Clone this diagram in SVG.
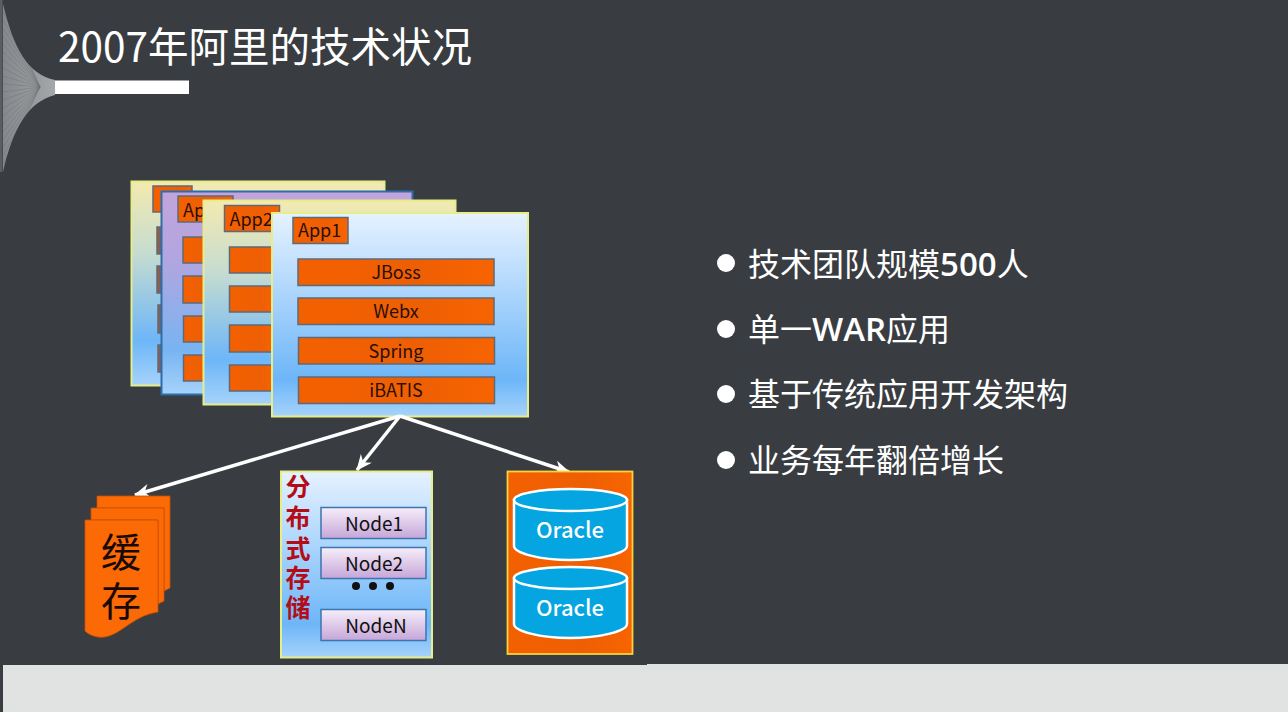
<svg xmlns="http://www.w3.org/2000/svg" width="1288" height="712" viewBox="0 0 1288 712">
<style>
text{font-family:"Noto Sans CJK SC","Liberation Sans",sans-serif}
.lat{font-family:"Open Sans","Noto Sans","Liberation Sans",sans-serif;font-weight:600;font-size:33px}
.card{stroke:#e6ee8a;stroke-width:2}
.row{fill:url(#orange);stroke:#5f6a78;stroke-width:1.5}
.dim{fill:#8a5f50;stroke:#5f6a78;stroke-width:1.5}
.lbl{font-size:18px;fill:#2a0f08;text-anchor:middle}
.app{font-size:18px;fill:#2a0f08}
.node{fill:url(#nodeg);stroke:#3d74b0;stroke-width:1.5}
.nt{font-size:19px;fill:#111;text-anchor:middle}
.bul{font-size:32px;fill:#fff}
.vt{font-size:25px;font-weight:700;fill:#b30d18;text-anchor:middle}
.cyl{fill:#05a5e2;stroke:#fff;stroke-width:2.5}
.ot{font-size:22px;font-weight:500;fill:#fff;text-anchor:middle}
.arr{stroke:#fff;stroke-width:3.500;fill:none}
.doc{fill:#fb6a05;stroke:#c84f05;stroke-width:.8}
</style>
<defs>
<linearGradient id="orange" x1="0" y1="0" x2="1" y2="0"><stop offset="0" stop-color="#f36000"/><stop offset=".6" stop-color="#ee5f04"/><stop offset="1" stop-color="#f76400"/></linearGradient>
<linearGradient id="blue" x1="0" y1="0" x2="0" y2="1"><stop offset="0" stop-color="#e6f2ff"/><stop offset=".82" stop-color="#6db6f8"/><stop offset="1" stop-color="#a6d3fb"/></linearGradient>
<linearGradient id="yel" x1="0" y1="0" x2="0" y2="1"><stop offset="0" stop-color="#f3eab0"/><stop offset=".35" stop-color="#c6dcd0"/><stop offset=".78" stop-color="#6db6f8"/><stop offset="1" stop-color="#a6d3fb"/></linearGradient>
<linearGradient id="pur" x1="0" y1="0" x2="0" y2="1"><stop offset="0" stop-color="#c3a4dc"/><stop offset=".35" stop-color="#b0a6e0"/><stop offset=".78" stop-color="#78b4f2"/><stop offset="1" stop-color="#a6d3fb"/></linearGradient>
<linearGradient id="nodeg" x1="0" y1="0" x2="0" y2="1"><stop offset="0" stop-color="#f6eefa"/><stop offset="1" stop-color="#c6a6d8"/></linearGradient>
<linearGradient id="fan" x1="0" y1="0" x2="1" y2="0"><stop offset="0" stop-color="#85898c"/><stop offset="1" stop-color="#a5a8aa"/></linearGradient>
<clipPath id="fanclip"><path d="M3 4C14 50 28 74 55 80V95C28 102 13 128 3 172Z"/></clipPath>
<marker id="head" viewBox="0 0 16 14" refX="15" refY="7" markerWidth="16" markerHeight="14" markerUnits="userSpaceOnUse" orient="auto"><path d="M0 0L16 7L0 14L5 7Z" fill="#fff"/></marker>
</defs>
<rect width="1288" height="712" fill="#393d41"/>
<g id="ornament">
<rect x="0" y="0" width="2.500" height="172" fill="#5a5e62"/>
<path d="M3 4C14 50 28 74 55 80V95C28 102 13 128 3 172Z" fill="url(#fan)"/>
<path clip-path="url(#fanclip)" stroke="#6a6e72" stroke-width=".4" fill="none" d="M3 4L40 87M3 12L40 87M3 20L40 87M3 28L40 87M3 36L40 87M3 44L40 87M3 52L40 87M3 60L40 87M3 68L40 87M3 76L40 87M3 84L40 87M3 92L40 87M3 100L40 87M3 108L40 87M3 116L40 87M3 124L40 87M3 132L40 87M3 140L40 87M3 148L40 87M3 156L40 87M3 164L40 87"/>
<rect x="55" y="80.500" width="134" height="13.500" fill="#fff"/>
</g>
<g id="footer"><path d="M3 665H647V664H1288V712H3Z" fill="#e1e3e3"/></g>
<text id="title" x="58" y="62" font-size="40.500" fill="#fff">2007年阿里的技术状况</text>
<g id="app4">
<rect class="card" x="131.500" y="181.500" width="253" height="204" fill="url(#yel)"/>
<rect class="row" x="153" y="186" width="39" height="26"/>
<rect class="dim" x="157" y="227" width="10" height="27"/><rect class="dim" x="157" y="266" width="10" height="27"/><rect class="dim" x="158" y="305" width="10" height="28"/><rect class="dim" x="158" y="345" width="10" height="27"/>
</g>
<g id="app3">
<rect x="161.500" y="191.500" width="251" height="203" fill="url(#pur)" stroke="#2f6ca8" stroke-width="2"/>
<rect class="row" x="178" y="196" width="55" height="26"/>
<text class="app" x="183" y="217">App3</text>
<rect class="row" x="183" y="237" width="30" height="26"/><rect class="row" x="183" y="276" width="30" height="27"/><rect class="row" x="183.500" y="316" width="30" height="26"/><rect class="row" x="183.500" y="355" width="30" height="26"/>
</g>
<g id="app2">
<rect class="card" x="203.500" y="200.500" width="252" height="204" fill="url(#yel)"/>
<rect class="row" x="224.500" y="205.500" width="55" height="26"/>
<text class="app" x="229.500" y="226">App2</text>
<rect class="row" x="229.500" y="247" width="50" height="26"/><rect class="row" x="229.500" y="286" width="50" height="26"/><rect class="row" x="229.500" y="325" width="50" height="27"/><rect class="row" x="229.500" y="365" width="50" height="26"/>
</g>
<g id="app1">
<rect class="card" x="272" y="213" width="256" height="203.500" fill="url(#blue)"/>
<rect class="row" x="293" y="217.500" width="55" height="26"/>
<text class="app" x="298" y="237">App1</text>
<rect class="row" x="298" y="259" width="196" height="26.500"/><text class="lbl" x="396" y="279">JBoss</text>
<rect class="row" x="298" y="298" width="196" height="26.500"/><text class="lbl" x="396" y="318">Webx</text>
<rect class="row" x="298.500" y="337.500" width="196" height="26.500"/><text class="lbl" x="396" y="358">Spring</text>
<rect class="row" x="298.500" y="377" width="196" height="26.500"/><text class="lbl" x="396" y="397">iBATIS</text>
</g>
<g id="connectors" class="arr">
<line x1="400" y1="416" x2="135" y2="495" marker-end="url(#head)"/>
<line x1="400" y1="416" x2="357" y2="470" marker-end="url(#head)"/>
<line x1="400" y1="416" x2="569" y2="472" marker-end="url(#head)"/>
</g>
<g id="cache">
<path class="doc" d="M97 496H170V588L164 591V508H97Z"/>
<path class="doc" d="M91 508H164V601L158 604V520H91Z"/>
<path class="doc" d="M85 520H158V612C130 616 118 640 98 637C92 636 88 634 85 631Z"/>
<text x="121" y="567" font-size="40" fill="#1a0a05" text-anchor="middle">缓</text>
<text x="121" y="616" font-size="40" fill="#1a0a05" text-anchor="middle">存</text>
</g>
<g id="storage">
<rect x="281" y="471.500" width="151" height="186" fill="url(#blue)" stroke="#e6ee8a" stroke-width="2"/>
<text class="vt" x="298" y="496">分</text><text class="vt" x="298" y="527">布</text><text class="vt" x="298" y="558">式</text><text class="vt" x="298" y="587">存</text><text class="vt" x="298" y="617">储</text>
<rect class="node" x="321" y="507.500" width="105" height="31"/><text class="nt" x="374" y="531">Node1</text>
<rect class="node" x="321" y="547.500" width="105" height="31"/><text class="nt" x="374" y="571">Node2</text>
<circle cx="356" cy="586" r="4" fill="#111"/><circle cx="373" cy="586" r="4" fill="#111"/><circle cx="390" cy="586" r="4" fill="#111"/>
<rect class="node" x="321" y="609.500" width="105" height="31"/><text class="nt" x="376" y="633">NodeN</text>
</g>
<g id="oracle">
<rect x="507.500" y="471.500" width="125" height="182.500" fill="url(#orange)" stroke="#f8d23c" stroke-width="1.800"/>
<path class="cyl" d="M514 500V546C514 553 540 560 570 560C600 560 627 553 627 546V500Z"/>
<ellipse class="cyl" cx="570.500" cy="500" rx="56.500" ry="11"/>
<text class="ot" x="570" y="538">Oracle</text>
<path class="cyl" d="M514 578V624C514 631 540 638 570 638C600 638 627 631 627 624V578Z"/>
<ellipse class="cyl" cx="570.500" cy="578" rx="56.500" ry="11"/>
<text class="ot" x="570" y="616">Oracle</text>
</g>
<g id="bullets">
<circle cx="726" cy="263" r="9" fill="#fff"/><text class="bul" x="748" y="276">技术团队规模<tspan class="lat">500</tspan>人</text>
<circle cx="726" cy="329" r="9" fill="#fff"/><text class="bul" x="748" y="341">单一<tspan class="lat">WAR</tspan>应用</text>
<circle cx="726" cy="394" r="9" fill="#fff"/><text class="bul" x="748" y="406">基于传统应用开发架构</text>
<circle cx="726" cy="460" r="9" fill="#fff"/><text class="bul" x="748" y="472">业务每年翻倍增长</text>
</g>
</svg>
